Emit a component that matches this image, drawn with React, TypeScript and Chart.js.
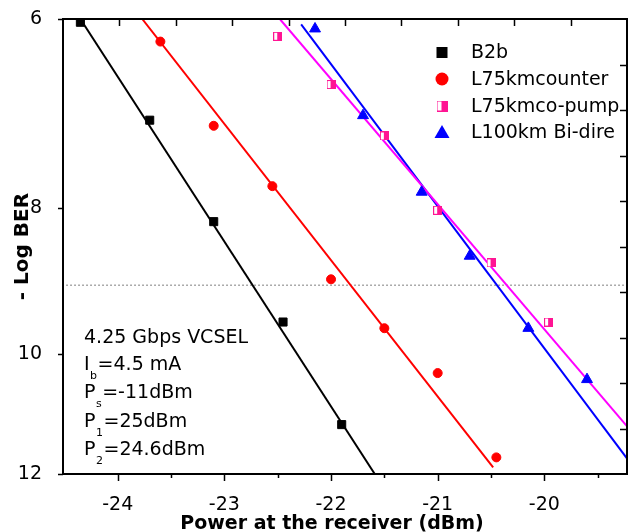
import React, { useEffect, useRef } from 'react';
import { Chart, registerables } from 'chart.js';

Chart.register(...registerables);

// ---- data ----
const seriesNames = ['B2b', 'L75kmcounter', 'L75kmco-pump', 'L100km Bi-dire'];

const b2bX = [-24.35, -23.7, -23.1, -22.45, -21.9];
const b2bY = [6.03, 7.0, 8.17, 9.52, 11.13];
const counterX = [-23.6, -23.1, -22.55, -22.0, -21.5, -21.0, -20.45];
const counterY = [6.21, 7.06, 7.74, 8.92, 9.61, 10.29, 11.7];
const copumpX = [-22.5, -22.0, -21.5, -21.0, -20.5, -19.96];
const copumpY = [6.16, 6.63, 7.17, 8.03, 8.7, 9.52];
const bidirX = [-22.15, -21.7, -21.15, -20.7, -20.15, -19.6];
const bidirY = [6.09, 6.95, 7.81, 8.61, 9.61, 10.39];

// linear fits (end points)
const b2bFitX = [-24.35, -21.59];
const b2bFitY = [6, 12];
const counterFitX = [-23.77, -20.48];
const counterFitY = [6, 11.88];
const copumpFitX = [-22.48, -19.22];
const copumpFitY = [6, 11.17];
const bidirFitX = [-22.28, -19.22];
const bidirFitY = [6.05, 11.73];

// BER threshold
const thresholdX = [-24.48, -19.225];
const thresholdY = [9, 9];

// axes
const xMin = -24.513;
const xMax = -19.225;
const yMin = 6;
const yMax = 12;
const xTicks = [-24, -23, -22, -21, -20];
const xMinorTicks = [-23.5, -22.5, -21.5, -20.5, -19.5];
const yTicks = [6, 8, 10, 12];
const mirrorTicks = [1, 2, 3, 4, 5, 6, 7, 8, 9];

const xTitle = 'Power at the receiver (dBm)';
const yTitle = '- Log BER';

const noteMain = ['4.25 Gbps VCSEL', 'I', 'P', 'P', 'P'];
const noteSub = ['', 'b', 's', '1', '2'];
const noteRest = ['', '=4.5 mA', '=-11dBm', '=25dBm', '=24.6dBm'];

const BLACK = '#000000';
const RED = '#ff0000';
const PINK = '#ff1493';
const MAGENTA = '#ff00ff';
const BLUE = '#0000ff';
const FONT = '"DejaVu Sans", "Liberation Sans", Arial, sans-serif';

const pts = (xs: number[], ys: number[]) => xs.map((x, i) => ({ x, y: ys[i] }));

function makeHalfSquare(size: number, color: string) {
  const c = document.createElement('canvas');
  c.width = size;
  c.height = size;
  const g = c.getContext('2d')!;
  g.fillStyle = '#ffffff';
  g.fillRect(0, 0, size, size);
  g.fillStyle = color;
  const h = Math.floor(size / 2);
  g.fillRect(h, 0, size - h, size);
  g.strokeStyle = color;
  g.lineWidth = 1;
  g.strokeRect(0.5, 0.5, size - 1, size - 1);
  return c;
}

const noPad = (s: any) => {
  s.paddingTop = 0;
  s.paddingBottom = 0;
  s.paddingLeft = 0;
  s.paddingRight = 0;
};

export default function App() {
  const ref = useRef<HTMLCanvasElement | null>(null);

  useEffect(() => {
    if (!ref.current) return;
    const half = makeHalfSquare(9, PINK);
    const halfBig = makeHalfSquare(11, PINK);

    const decor = {
      id: 'decor',
      afterDraw(chart: any) {
        const ctx = chart.ctx as CanvasRenderingContext2D;
        const { left, right, top, bottom } = chart.chartArea;
        const xs = chart.scales.x;
        const ys = chart.scales.y;
        const x2 = chart.scales.x2;
        const y2 = chart.scales.y2;
        ctx.save();
        ctx.strokeStyle = BLACK;
        ctx.lineWidth = 2;
        ctx.strokeRect(left, top, right - left, bottom - top);
        ctx.lineWidth = 1.5;
        ctx.beginPath();
        xTicks.forEach((v) => {
          const p = Math.round(xs.getPixelForValue(v)) + 0.5;
          ctx.moveTo(p, bottom);
          ctx.lineTo(p, bottom + 7);
        });
        xMinorTicks.forEach((v) => {
          const p = Math.round(xs.getPixelForValue(v)) + 0.5;
          ctx.moveTo(p, bottom);
          ctx.lineTo(p, bottom + 4);
        });
        yTicks.forEach((v) => {
          const p = Math.round(ys.getPixelForValue(v)) + 0.5;
          ctx.moveTo(left - 5, p);
          ctx.lineTo(left, p);
        });
        mirrorTicks.forEach((v) => {
          const px = Math.round(x2.getPixelForValue(v)) + 0.5;
          ctx.moveTo(px, top);
          ctx.lineTo(px, top + 7);
          const py = Math.round(y2.getPixelForValue(v)) + 0.5;
          ctx.moveTo(right, py);
          ctx.lineTo(right - 7, py);
        });
        ctx.stroke();

        // legend
        const lx = 442;
        const ly = [52.5, 79, 106, 132];
        ctx.fillStyle = BLACK;
        ctx.fillRect(lx - 5.5, ly[0] - 5.5, 11, 11);
        ctx.fillStyle = RED;
        ctx.beginPath();
        ctx.arc(lx, ly[1], 6.5, 0, Math.PI * 2);
        ctx.fill();
        ctx.drawImage(halfBig, lx - 5.5, ly[2] - 5.5);
        ctx.fillStyle = BLUE;
        ctx.beginPath();
        ctx.moveTo(lx, ly[3] - 7);
        ctx.lineTo(lx + 7.5, ly[3] + 6);
        ctx.lineTo(lx - 7.5, ly[3] + 6);
        ctx.closePath();
        ctx.fill();
        ctx.fillStyle = BLACK;
        ctx.font = `19px ${FONT}`;
        ctx.textAlign = 'left';
        ctx.textBaseline = 'middle';
        seriesNames.forEach((n, i) => ctx.fillText(n, 471, ly[i] + 1));

        // annotation
        const base = [342.5, 369.5, 397.7, 426.5, 455];
        ctx.textBaseline = 'alphabetic';
        noteMain.forEach((m, i) => {
          let x = 84;
          ctx.font = `19px ${FONT}`;
          ctx.fillText(m, x, base[i]);
          x += ctx.measureText(m).width;
          if (noteSub[i]) {
            ctx.font = `11px ${FONT}`;
            ctx.fillText(noteSub[i], x + 0.5, base[i] + 9);
            x += ctx.measureText(noteSub[i]).width + 1;
          }
          if (noteRest[i]) {
            ctx.font = `19px ${FONT}`;
            ctx.fillText(noteRest[i], x, base[i]);
          }
        });

        // axis titles
        ctx.font = `bold 19px ${FONT}`;
        ctx.textAlign = 'center';
        ctx.textBaseline = 'alphabetic';
        ctx.fillText(xTitle, 332, 529);
        ctx.translate(28, 246.5);
        ctx.rotate(-Math.PI / 2);
        ctx.font = `bold 20px ${FONT}`;
        ctx.fillText(yTitle, 0, 0);
        ctx.restore();
      },
    };

    const lineDs = (xs: number[], ys: number[], color: string, extra: any = {}) => ({
      type: 'line',
      data: pts(xs, ys),
      borderColor: color,
      backgroundColor: color,
      borderWidth: 2,
      pointRadius: 0,
      showLine: true,
      fill: false,
      xAxisID: 'x',
      yAxisID: 'y',
      order: 2,
      ...extra,
    });

    const pointDs = (xs: number[], ys: number[], color: string, style: any, radius: number) => ({
      type: 'scatter',
      data: pts(xs, ys),
      borderColor: color,
      backgroundColor: color,
      borderWidth: 1,
      pointStyle: style,
      pointRadius: radius,
      showLine: false,
      xAxisID: 'x',
      yAxisID: 'y',
      order: 0,
    });

    const chart = new Chart(ref.current, {
      type: 'scatter',
      data: {
        datasets: [
          pointDs(b2bX, b2bY, BLACK, 'rect', 5.7),
          pointDs(counterX, counterY, RED, 'circle', 4.5),
          pointDs(copumpX, copumpY, PINK, half, 4.5),
          pointDs(bidirX, bidirY, BLUE, 'triangle', 6.3),
          lineDs(b2bFitX, b2bFitY, BLACK),
          lineDs(counterFitX, counterFitY, RED),
          lineDs(copumpFitX, copumpFitY, MAGENTA),
          lineDs(bidirFitX, bidirFitY, BLUE),
          lineDs(thresholdX, thresholdY, BLACK, { borderWidth: 1, borderDash: [1, 3] }),
        ] as any,
      },
      options: {
        animation: false,
        responsive: false,
        layout: { autoPadding: false, padding: { top: 19, right: 2, left: 0, bottom: 0 } },
        plugins: { legend: { display: false }, tooltip: { enabled: false } },
        scales: {
          x: {
            type: 'linear',
            position: 'bottom',
            min: xMin,
            max: xMax,
            grid: { display: false },
            border: { display: false },
            afterBuildTicks: (s: any) => {
              s.ticks = xTicks.map((v) => ({ value: v }));
            },
            afterFit: (s: any) => {
              s.height = 58;
              noPad(s);
            },
            ticks: {
              color: BLACK,
              padding: 12,
              maxRotation: 0,
              font: { family: FONT, size: 19 },
              callback: (v: any) => String(v),
            },
          },
          y: {
            type: 'logarithmic',
            position: 'left',
            min: yMin,
            max: yMax,
            reverse: true,
            grid: { display: false },
            border: { display: false },
            afterBuildTicks: (s: any) => {
              s.ticks = yTicks.map((v) => ({ value: v }));
            },
            afterFit: (s: any) => {
              s.width = 63;
              noPad(s);
            },
            ticks: {
              color: BLACK,
              padding: 13,
              font: { family: FONT, size: 19 },
              callback: (v: any) => String(v),
            },
          },
          x2: { type: 'linear', position: 'top', display: false, min: 0, max: 10, ticks: { display: false }, afterFit: noPad },
          y2: { type: 'linear', position: 'right', display: false, min: 0, max: 10, ticks: { display: false }, afterFit: noPad },
        },
      } as any,
      plugins: [decor],
    });
    return () => chart.destroy();
  }, []);

  return (
    <div style={{ position: 'fixed', left: 0, top: 0, width: 629, height: 532, background: '#fff' }}>
      <canvas ref={ref} width={629} height={532} style={{ display: 'block' }} />
    </div>
  );
}
